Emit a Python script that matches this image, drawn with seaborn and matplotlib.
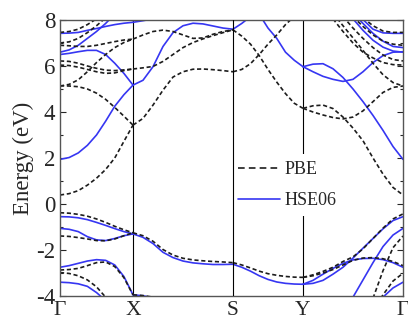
import numpy as np
import pandas as pd
import matplotlib
matplotlib.use("Agg")
import matplotlib.pyplot as plt
from matplotlib.lines import Line2D
from matplotlib.ticker import MultipleLocator
import seaborn as sns

nan = np.nan

# ---------------- data ----------------
kpath_labels = ["Γ", "X", "S", "Y", "Γ"]
kpath_pos = [0.0, 0.73, 1.73, 2.43, 3.43]

k_gx = np.linspace(kpath_pos[0], kpath_pos[1], 9)
k_xs = np.linspace(kpath_pos[1], kpath_pos[2], 11)
k_sy = np.linspace(kpath_pos[2], kpath_pos[3], 9)
k_yg = np.linspace(kpath_pos[3], kpath_pos[4], 11)

# PBE  Γ-X
pbe_gx_1 = [0.39, 0.45, 0.58, 0.82, 1.12, 1.50, 2.00, 2.72, 3.43]
pbe_gx_2 = [5.14, 5.13, 5.10, 5.00, 4.82, 4.55, 4.20, 3.82, 3.43]
pbe_gx_3 = [5.13, 5.20, 5.40, 5.75, 6.15, 6.50, 6.80, 7.02, 7.17]
pbe_gx_4 = [6.22, 6.20, 6.12, 6.00, 5.90, 5.82, 5.80, 5.83, 5.87]
pbe_gx_5 = [6.04, 6.02, 5.95, 5.85, 5.75, 5.68, 5.70, 5.80, 5.87]
pbe_gx_6 = [6.90, 6.88, 6.85, 6.85, 6.90, 6.98, 7.06, 7.13, 7.17]
pbe_gx_7 = [7.00, 7.05, 7.20, 7.45, 7.75, 8.10, nan, nan, nan]
pbe_gx_8 = [7.46, 7.50, 7.60, 7.80, 8.05, nan, nan, nan, nan]
pbe_gx_v1 = [-0.38, -0.40, -0.45, -0.53, -0.65, -0.80, -0.97, -1.12, -1.25]
pbe_gx_v2 = [-1.39, -1.41, -1.46, -1.52, -1.59, -1.60, -1.52, -1.38, -1.25]
pbe_gx_v3 = [-2.87, -2.85, -2.80, -2.68, -2.55, -2.52, -2.72, -3.20, -3.95]
pbe_gx_v4 = [-2.98, -3.02, -3.12, -3.30, -3.60, -4.05, nan, nan, nan]

# HSE06  Γ-X
hse_gx_1 = [1.94, 2.02, 2.22, 2.55, 3.00, 3.60, 4.25, 4.75, 5.17]
hse_gx_2 = [6.50, 6.55, 6.62, 6.68, 6.68, 6.50, 6.12, 5.68, 5.17]
hse_gx_3 = [6.60, 6.70, 6.90, 7.20, 7.50, 7.85, 8.25, nan, nan]
hse_gx_4 = [7.42, 7.43, 7.46, 7.55, 7.63, 7.72, 7.80, 7.86, 7.90]
hse_gx_v1 = [-0.55, -0.56, -0.60, -0.68, -0.80, -0.93, -1.07, -1.20, -1.30]
hse_gx_v2 = [-1.06, -1.10, -1.20, -1.42, -1.56, -1.59, -1.50, -1.38, -1.30]
hse_gx_v3 = [-2.75, -2.68, -2.58, -2.48, -2.42, -2.45, -2.65, -3.15, -3.95]
hse_gx_v4 = [-3.40, -3.42, -3.47, -3.58, -3.85, -4.20, nan, nan, nan]

# PBE  X-S
pbe_xs_1 = [3.43, 3.72, 4.30, 4.95, 5.52, 5.75, 5.86, 5.87, 5.84, 5.80, 5.75]
pbe_xs_2 = [5.87, 5.92, 5.98, 6.20, 6.50, 6.80, 7.02, 7.18, 7.32, 7.45, 7.57]
pbe_xs_3 = [7.17, 7.35, 7.50, 7.56, 7.50, 7.35, 7.20, 7.22, 7.38, 7.50, 7.57]
pbe_xs_v1 = [-1.25, -1.38, -1.62, -1.98, -2.22, -2.36, -2.43, -2.47, -2.50, -2.52, -2.55]
pbe_xs_v2 = [-3.95, -3.98, -4.05, nan, nan, nan, nan, nan, nan, nan, nan]

# HSE06  X-S
hse_xs_1 = [5.17, 5.38, 5.97, 6.85, 7.45, 7.75, 7.86, 7.83, 7.74, 7.65, 7.60]
hse_xs_2 = [7.90, 7.97, 8.05, nan, nan, nan, nan, nan, nan, nan, nan]
hse_xs_v1 = [-1.30, -1.45, -1.72, -2.10, -2.33, -2.48, -2.56, -2.60, -2.63, -2.63, -2.62]
hse_xs_v2 = [-3.95, -3.99, -4.08, nan, nan, nan, nan, nan, nan, nan, nan]

# PBE  S-Y
pbe_sy_1 = [7.57, 7.30, 6.95, 6.45, 5.85, 5.30, 4.80, 4.38, 4.16]
pbe_sy_2 = [5.75, 5.85, 6.10, 6.50, 6.95, 7.35, 7.80, 8.15, nan]
pbe_sy_v1 = [-2.55, -2.65, -2.78, -2.92, -3.03, -3.10, -3.15, -3.18, -3.19]

# HSE06  S-Y
hse_sy_1 = [7.60, 7.85, 8.15, nan, nan, nan, nan, nan, nan]
hse_sy_2 = [nan, nan, nan, 8.25, 7.65, 7.20, 6.60, 6.25, 5.97]
hse_sy_v1 = [-2.62, -2.75, -2.92, -3.12, -3.28, -3.39, -3.45, -3.48, -3.49]

# PBE  Y-Γ
pbe_yg_1 = [4.16, 4.27, 4.30, 4.15, 3.78, 3.30, 2.75, 2.00, 1.30, 0.72, 0.39]
pbe_yg_2 = [4.16, 4.00, 3.87, 3.76, 3.70, 3.78, 4.05, 4.45, 4.85, 5.07, 5.13]
pbe_yg_3 = [nan, nan, nan, 8.30, 7.75, 7.22, 6.68, 6.12, 5.62, 5.28, 5.13]
pbe_yg_4 = [nan, nan, nan, 8.05, 7.50, 7.00, 6.60, 6.35, 6.15, 6.06, 6.04]
pbe_yg_5 = [nan, nan, nan, nan, 8.15, 7.65, 7.20, 6.80, 6.48, 6.28, 6.22]
pbe_yg_6 = [nan, nan, nan, nan, nan, 8.15, 7.72, 7.35, 7.08, 6.95, 6.90]
pbe_yg_7 = [nan, nan, nan, nan, nan, nan, 8.10, 7.75, 7.52, 7.46, 7.46]
pbe_yg_v1 = [-3.19, -3.08, -2.93, -2.75, -2.50, -2.30, -1.95, -1.50, -1.05, -0.65, -0.43]
pbe_yg_v2 = [-3.19, -3.12, -3.00, -2.85, -2.65, -2.45, -2.35, -2.33, -2.38, -2.50, -2.68]
pbe_yg_v3 = [nan, nan, nan, nan, nan, nan, nan, -4.10, -2.90, -1.90, -1.39]
pbe_yg_v4 = [nan, nan, nan, nan, nan, nan, nan, -4.60, -3.95, -3.35, -3.01]

# HSE06  Y-Γ
hse_yg_1 = [5.97, 6.08, 6.10, 5.88, 5.50, 5.00, 4.45, 3.85, 3.20, 2.50, 1.94]
hse_yg_2 = [5.97, 5.75, 5.55, 5.42, 5.33, 5.42, 5.75, 6.15, 6.45, 6.60, 6.62]
hse_yg_3 = [nan, nan, nan, nan, nan, 8.05, 7.55, 7.12, 6.82, 6.65, 6.60]
hse_yg_4 = [nan, nan, nan, nan, nan, 8.30, 7.85, 7.42, 7.08, 6.85, 6.80]
hse_yg_5 = [nan, nan, nan, nan, nan, nan, 8.02, 7.60, 7.44, 7.42, 7.42]
hse_yg_v1 = [-3.49, -3.45, -3.32, -3.05, -2.75, -2.35, -1.92, -1.50, -1.08, -0.72, -0.55]
hse_yg_v2 = [-3.49, -3.32, -3.05, -2.80, -2.58, -2.43, -2.37, -2.36, -2.42, -2.55, -2.75]
hse_yg_v3 = [nan, nan, nan, nan, nan, -4.05, -3.30, -2.55, -1.85, -1.35, -1.06]
hse_yg_v4 = [nan, nan, nan, nan, nan, nan, nan, -4.50, -4.05, -3.65, -3.40]

segments = [
    ("PBE", k_gx, [pbe_gx_1, pbe_gx_2, pbe_gx_3, pbe_gx_4, pbe_gx_5, pbe_gx_6,
                   pbe_gx_7, pbe_gx_8, pbe_gx_v1, pbe_gx_v2, pbe_gx_v3, pbe_gx_v4]),
    ("HSE06", k_gx, [hse_gx_1, hse_gx_2, hse_gx_3, hse_gx_4,
                     hse_gx_v1, hse_gx_v2, hse_gx_v3, hse_gx_v4]),
    ("PBE", k_xs, [pbe_xs_1, pbe_xs_2, pbe_xs_3, pbe_xs_v1, pbe_xs_v2]),
    ("HSE06", k_xs, [hse_xs_1, hse_xs_2, hse_xs_v1, hse_xs_v2]),
    ("PBE", k_sy, [pbe_sy_1, pbe_sy_2, pbe_sy_v1]),
    ("HSE06", k_sy, [hse_sy_1, hse_sy_2, hse_sy_v1]),
    ("PBE", k_yg, [pbe_yg_1, pbe_yg_2, pbe_yg_3, pbe_yg_4, pbe_yg_5, pbe_yg_6,
                   pbe_yg_7, pbe_yg_v1, pbe_yg_v2, pbe_yg_v3, pbe_yg_v4]),
    ("HSE06", k_yg, [hse_yg_1, hse_yg_2, hse_yg_3, hse_yg_4, hse_yg_5,
                     hse_yg_v1, hse_yg_v2, hse_yg_v3, hse_yg_v4]),
]

rows = []
bid = 0
for method, kk, bands in segments:
    for b in bands:
        for kv, ev in zip(kk, b):
            if not np.isnan(ev):
                rows.append((method, bid, kv, ev))
        bid += 1
df = pd.DataFrame(rows, columns=["method", "band", "k", "E"])

# ---------------- style ----------------
sns.set_theme(style="ticks")
plt.rcParams["font.family"] = ["Liberation Serif", "DejaVu Serif"]
plt.rcParams["axes.unicode_minus"] = False

blue = "#3636f2"
black = "#1c1c1c"

fig = plt.figure(figsize=(4.08, 3.22), dpi=100)
ax = fig.add_axes([60 / 408, 26 / 322, 343 / 408, 276 / 322])

sns.lineplot(data=df, x="k", y="E", hue="method", style="method", units="band",
             estimator=None, sort=False, hue_order=["HSE06", "PBE"],
             palette={"PBE": black, "HSE06": blue},
             dashes={"PBE": (2.5, 1.6), "HSE06": ""},
             linewidth=1.2, legend=False, ax=ax)

for i, xv in enumerate(kpath_pos[1:4]):
    ax.axvline(xv, color="black", lw=0.8, zorder=6 if i == 1 else 1.5)

ax.set_xlim(kpath_pos[0], kpath_pos[-1])
ax.set_ylim(-4, 8)
ax.set_xticks(kpath_pos)
ax.set_xticklabels(kpath_labels)
ax.set_yticks([-4, -2, 0, 2, 4, 6, 8])
ax.yaxis.set_minor_locator(MultipleLocator(1))
ax.tick_params(axis="x", length=0, pad=3.5, labelsize=15.5)
ax.tick_params(axis="y", which="major", direction="in", length=4, width=0.8,
               left=True, right=True, labelsize=16.5, pad=3.5)
ax.tick_params(axis="y", which="minor", direction="in", length=2.5, width=0.8,
               left=True, right=True)
ax.set_xlabel("")
ax.set_ylabel("Energy (eV)", fontsize=16.5, labelpad=1)
for s in ax.spines.values():
    s.set_color("#555555")
    s.set_linewidth(1.0)

handles = [Line2D([], [], color=black, lw=1.2, linestyle=(0, (4, 2.5)), label="PBE"),
           Line2D([], [], color=blue, lw=1.2, label="HSE06")]
leg = ax.legend(handles=handles, loc="upper left", bbox_to_anchor=(0.498, 0.514),
                frameon=True, framealpha=1, edgecolor="none", fancybox=False,
                fontsize=13, handlelength=2.3, handletextpad=0.3,
                labelspacing=0.75, borderpad=0.4, borderaxespad=0)
leg.get_frame().set_facecolor("white")

fig.savefig("out.png", dpi=100)
